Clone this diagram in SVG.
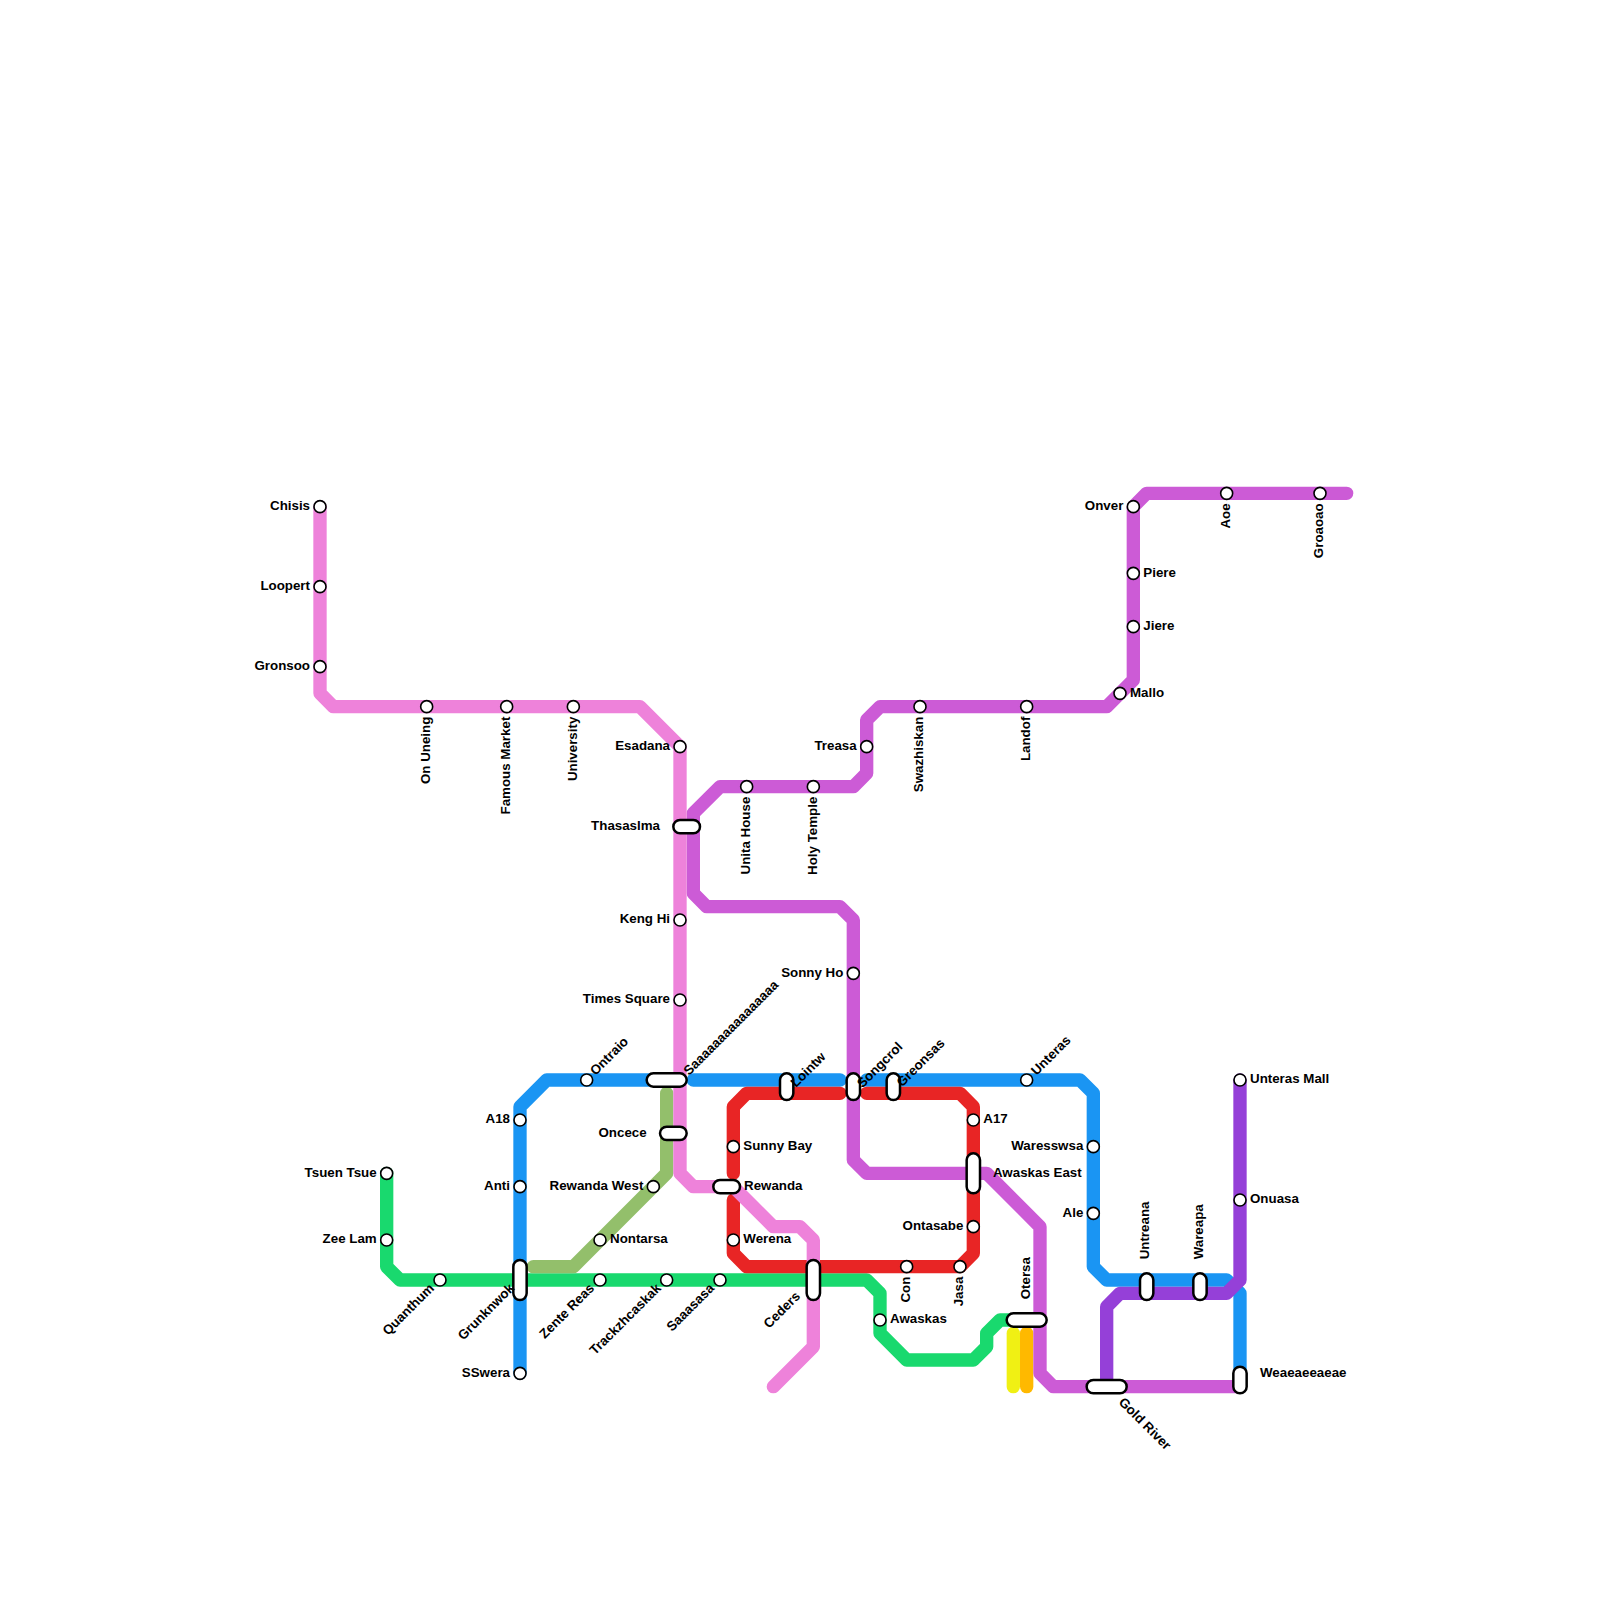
<svg xmlns="http://www.w3.org/2000/svg" width="1600" height="1600" viewBox="0 0 1600 1600">
<style>
.l{fill:none;stroke-width:13.33;stroke-linecap:round;stroke-linejoin:round}
.s{fill:#fff;stroke:#000;stroke-width:1.6}
.i{fill:#fff;stroke:#000;stroke-width:2.5}
text{font-family:"Liberation Sans",Arial,sans-serif;font-size:13.33px;font-weight:700;fill:#000}
.e{text-anchor:end}
</style>
<rect width="1600" height="1600" fill="#fff"/>
<g id="connectors">
<polyline class="l" stroke="#19D96E" points="386.67,1173.33 386.67,1266.67 400,1280 866.67,1280 880,1293.33 880,1333.33 906.67,1360 973.33,1360 986.67,1346.67 986.67,1333.33 1000,1320 1026.67,1320"/>
<polyline class="l" stroke="#93BF6B" points="666.67,1093.33 666.67,1173.33 573.33,1266.67 533.33,1266.67"/>
<polyline class="l" stroke="#F0F014" points="1013.33,1333.33 1013.33,1386.67"/>
<polyline class="l" stroke="#FFB900" points="1026.67,1333.33 1026.67,1386.67"/>
<polyline class="l" stroke="#1A95F3" points="520,1373.33 520,1106.67 546.67,1080 666.67,1080"/>
<polyline class="l" stroke="#1A95F3" points="693.33,1080 840,1080"/>
<polyline class="l" stroke="#1A95F3" points="866.67,1080 1080,1080 1093.33,1093.33 1093.33,1266.67 1106.67,1280 1226.67,1280 1240,1293.33 1240,1380"/>
<polyline class="l" stroke="#E82525" points="840,1093.33 746.67,1093.33 733.33,1106.67 733.33,1173.33"/>
<polyline class="l" stroke="#E82525" points="733.33,1200 733.33,1253.33 746.67,1266.67 960,1266.67 973.33,1253.33 973.33,1106.67 960,1093.33 866.67,1093.33"/>
<polyline class="l" stroke="#CC5BD6" points="1346.67,493.33 1146.67,493.33 1133.33,506.67 1133.33,680 1106.67,706.67 880,706.67 866.67,720 866.67,773.33 853.33,786.67 720,786.67 693.33,813.33 693.33,893.33 706.67,906.67 840,906.67 853.33,920 853.33,1160 866.67,1173.33 986.67,1173.33 1040,1226.67 1040,1373.33 1053.33,1386.67 1240,1386.67"/>
<polyline class="l" stroke="#EE82DA" points="320,506.67 320,693.33 333.33,706.67 640,706.67 680,746.67 680,1173.33 693.33,1186.67 733.33,1186.67 773.33,1226.67 800,1226.67 813.33,1240 813.33,1346.67 773.33,1386.67"/>
<polyline class="l" stroke="#9540D8" points="1240,1080 1240,1280 1226.67,1293.33 1120,1293.33 1106.67,1306.67 1106.67,1386.67"/>
</g>
<g id="n-chisis"><circle class="s" cx="320" cy="506.67" r="6"/><text class="e" x="310" y="510">Chisis</text></g>
<g id="n-loopert"><circle class="s" cx="320" cy="586.67" r="6"/><text class="e" x="310" y="590">Loopert</text></g>
<g id="n-gronsoo"><circle class="s" cx="320" cy="666.67" r="6"/><text class="e" x="310" y="670">Gronsoo</text></g>
<g id="n-on-uneing"><circle class="s" cx="426.67" cy="706.67" r="6"/><text class="e" transform="translate(430,716.67) rotate(-90)">On Uneing</text></g>
<g id="n-famous-market"><circle class="s" cx="506.67" cy="706.67" r="6"/><text class="e" transform="translate(510,716.67) rotate(-90)">Famous Market</text></g>
<g id="n-university"><circle class="s" cx="573.33" cy="706.67" r="6"/><text class="e" transform="translate(576.67,716.67) rotate(-90)">University</text></g>
<g id="n-esadana"><circle class="s" cx="680" cy="746.67" r="6"/><text class="e" x="670" y="750">Esadana</text></g>
<g id="n-thasaslma"><rect class="i" x="673.33" y="820" width="26.67" height="13.33" rx="6.67"/><text class="e" x="660" y="830">Thasaslma</text></g>
<g id="n-keng-hi"><circle class="s" cx="680" cy="920" r="6"/><text class="e" x="670" y="923.33">Keng Hi</text></g>
<g id="n-times-square"><circle class="s" cx="680" cy="1000" r="6"/><text class="e" x="670" y="1003.33">Times Square</text></g>
<g id="n-unita-house"><circle class="s" cx="746.67" cy="786.67" r="6"/><text class="e" transform="translate(750,796.67) rotate(-90)">Unita House</text></g>
<g id="n-holy-temple"><circle class="s" cx="813.33" cy="786.67" r="6"/><text class="e" transform="translate(816.67,796.67) rotate(-90)">Holy Temple</text></g>
<g id="n-treasa"><circle class="s" cx="866.67" cy="746.67" r="6"/><text class="e" x="856.67" y="750">Treasa</text></g>
<g id="n-swazhiskan"><circle class="s" cx="920" cy="706.67" r="6"/><text class="e" transform="translate(923.33,716.67) rotate(-90)">Swazhiskan</text></g>
<g id="n-landof"><circle class="s" cx="1026.67" cy="706.67" r="6"/><text class="e" transform="translate(1030,716.67) rotate(-90)">Landof</text></g>
<g id="n-mallo"><circle class="s" cx="1120" cy="693.33" r="6"/><text x="1130" y="696.67">Mallo</text></g>
<g id="n-jiere"><circle class="s" cx="1133.33" cy="626.67" r="6"/><text x="1143.33" y="630">Jiere</text></g>
<g id="n-piere"><circle class="s" cx="1133.33" cy="573.33" r="6"/><text x="1143.33" y="576.67">Piere</text></g>
<g id="n-onver"><circle class="s" cx="1133.33" cy="506.67" r="6"/><text class="e" x="1123.33" y="510">Onver</text></g>
<g id="n-aoe"><circle class="s" cx="1226.67" cy="493.33" r="6"/><text class="e" transform="translate(1230,503.33) rotate(-90)">Aoe</text></g>
<g id="n-groaoao"><circle class="s" cx="1320" cy="493.33" r="6"/><text class="e" transform="translate(1323.33,503.33) rotate(-90)">Groaoao</text></g>
<g id="n-sonny-ho"><circle class="s" cx="853.33" cy="973.33" r="6"/><text class="e" x="843.33" y="976.67">Sonny Ho</text></g>
<g id="n-ontraio"><circle class="s" cx="586.67" cy="1080" r="6"/><text transform="translate(595.5,1076) rotate(-45)">Ontraio</text></g>
<g id="n-saaa"><rect class="i" x="646.67" y="1073.33" width="40" height="13.33" rx="6.67"/><text transform="translate(689,1076) rotate(-45)">Saaaaaaaaaaaaaaaa</text></g>
<g id="n-lointw"><rect class="i" x="780" y="1073.33" width="13.33" height="26.67" rx="6.67"/><text transform="translate(796,1088) rotate(-45)">Lointw</text></g>
<g id="n-songcrol"><rect class="i" x="846.67" y="1073.33" width="13.33" height="26.67" rx="6.67"/><text transform="translate(862.5,1088.5) rotate(-45)">Songcrol</text></g>
<g id="n-greonsas"><rect class="i" x="886.67" y="1073.33" width="13.33" height="26.67" rx="6.67"/><text transform="translate(902,1087.5) rotate(-45)">Greonsas</text></g>
<g id="n-unteras"><circle class="s" cx="1026.67" cy="1080" r="6"/><text transform="translate(1036.5,1076) rotate(-45)">Unteras</text></g>
<g id="n-oncece"><rect class="i" x="660" y="1126.67" width="26.67" height="13.33" rx="6.67"/><text class="e" x="646.67" y="1136.67">Oncece</text></g>
<g id="n-a18"><circle class="s" cx="520" cy="1120" r="6"/><text class="e" x="510" y="1123.33">A18</text></g>
<g id="n-anti"><circle class="s" cx="520" cy="1186.67" r="6"/><text class="e" x="510" y="1190">Anti</text></g>
<g id="n-sswera"><circle class="s" cx="520" cy="1373.33" r="6"/><text class="e" x="510" y="1376.67">SSwera</text></g>
<g id="n-tsuen-tsue"><circle class="s" cx="386.67" cy="1173.33" r="6"/><text class="e" x="376.67" y="1176.67">Tsuen Tsue</text></g>
<g id="n-zee-lam"><circle class="s" cx="386.67" cy="1240" r="6"/><text class="e" x="376.67" y="1243.33">Zee Lam</text></g>
<g id="n-quanthum"><circle class="s" cx="440" cy="1280" r="6"/><text class="e" transform="translate(435,1289) rotate(-45)">Quanthum</text></g>
<g id="n-grunknwok"><rect class="i" x="513.33" y="1260" width="13.33" height="40" rx="6.67"/><text class="e" transform="translate(515,1289) rotate(-45)">Grunknwok</text></g>
<g id="n-zente-reas"><circle class="s" cx="600" cy="1280" r="6"/><text class="e" transform="translate(595,1289) rotate(-45)">Zente Reas</text></g>
<g id="n-trackzhcaskak"><circle class="s" cx="666.67" cy="1280" r="6"/><text class="e" transform="translate(661.67,1289) rotate(-45)">Trackzhcaskak</text></g>
<g id="n-saaasasa"><circle class="s" cx="720" cy="1280" r="6"/><text class="e" transform="translate(715,1289) rotate(-45)">Saaasasa</text></g>
<g id="n-rewanda-west"><circle class="s" cx="653.33" cy="1186.67" r="6"/><text class="e" x="643.33" y="1190">Rewanda West</text></g>
<g id="n-nontarsa"><circle class="s" cx="600" cy="1240" r="6"/><text x="610" y="1243.33">Nontarsa</text></g>
<g id="n-sunny-bay"><circle class="s" cx="733.33" cy="1146.67" r="6"/><text x="743.33" y="1150">Sunny Bay</text></g>
<g id="n-rewanda"><rect class="i" x="713.33" y="1180" width="26.67" height="13.33" rx="6.67"/><text x="744" y="1190">Rewanda</text></g>
<g id="n-werena"><circle class="s" cx="733.33" cy="1240" r="6"/><text x="743.33" y="1243.33">Werena</text></g>
<g id="n-ceders"><rect class="i" x="806.67" y="1260" width="13.33" height="40" rx="6.67"/><text class="e" transform="translate(801,1297) rotate(-45)">Ceders</text></g>
<g id="n-con"><circle class="s" cx="906.67" cy="1266.67" r="6"/><text class="e" transform="translate(910,1276.67) rotate(-90)">Con</text></g>
<g id="n-jasa"><circle class="s" cx="960" cy="1266.67" r="6"/><text class="e" transform="translate(963.33,1276.67) rotate(-90)">Jasa</text></g>
<g id="n-awaskas"><circle class="s" cx="880" cy="1320" r="6"/><text x="890" y="1323.33">Awaskas</text></g>
<g id="n-a17"><circle class="s" cx="973.33" cy="1120" r="6"/><text x="983.33" y="1123.33">A17</text></g>
<g id="n-awaskas-east"><rect class="i" x="966.67" y="1153.33" width="13.33" height="40" rx="6.67"/><text class="e" x="1081.67" y="1176.67">Awaskas East</text></g>
<g id="n-ontasabe"><circle class="s" cx="973.33" cy="1226.67" r="6"/><text class="e" x="963.33" y="1230">Ontasabe</text></g>
<g id="n-otersa"><rect class="i" x="1006.67" y="1313.33" width="40" height="13.33" rx="6.67"/><text transform="translate(1030,1299.33) rotate(-90)">Otersa</text></g>
<g id="n-waresswsa"><circle class="s" cx="1093.33" cy="1146.67" r="6"/><text class="e" x="1083.33" y="1150">Waresswsa</text></g>
<g id="n-ale"><circle class="s" cx="1093.33" cy="1213.33" r="6"/><text class="e" x="1083.33" y="1216.67">Ale</text></g>
<g id="n-untreana"><rect class="i" x="1140" y="1273.33" width="13.33" height="26.67" rx="6.67"/><text transform="translate(1149.33,1259.33) rotate(-90)">Untreana</text></g>
<g id="n-wareapa"><rect class="i" x="1193.33" y="1273.33" width="13.33" height="26.67" rx="6.67"/><text transform="translate(1203.33,1259.33) rotate(-90)">Wareapa</text></g>
<g id="n-gold-river"><rect class="i" x="1086.67" y="1380" width="40" height="13.33" rx="6.67"/><text transform="translate(1118,1403) rotate(45)">Gold River</text></g>
<g id="n-unteras-mall"><circle class="s" cx="1240" cy="1080" r="6"/><text x="1250" y="1083.33">Unteras Mall</text></g>
<g id="n-onuasa"><circle class="s" cx="1240" cy="1200" r="6"/><text x="1250" y="1203.33">Onuasa</text></g>
<g id="n-weaeaeeaeae"><rect class="i" x="1233.33" y="1366.67" width="13.33" height="26.67" rx="6.67"/><text x="1260" y="1376.67">Weaeaeeaeae</text></g>
</svg>
